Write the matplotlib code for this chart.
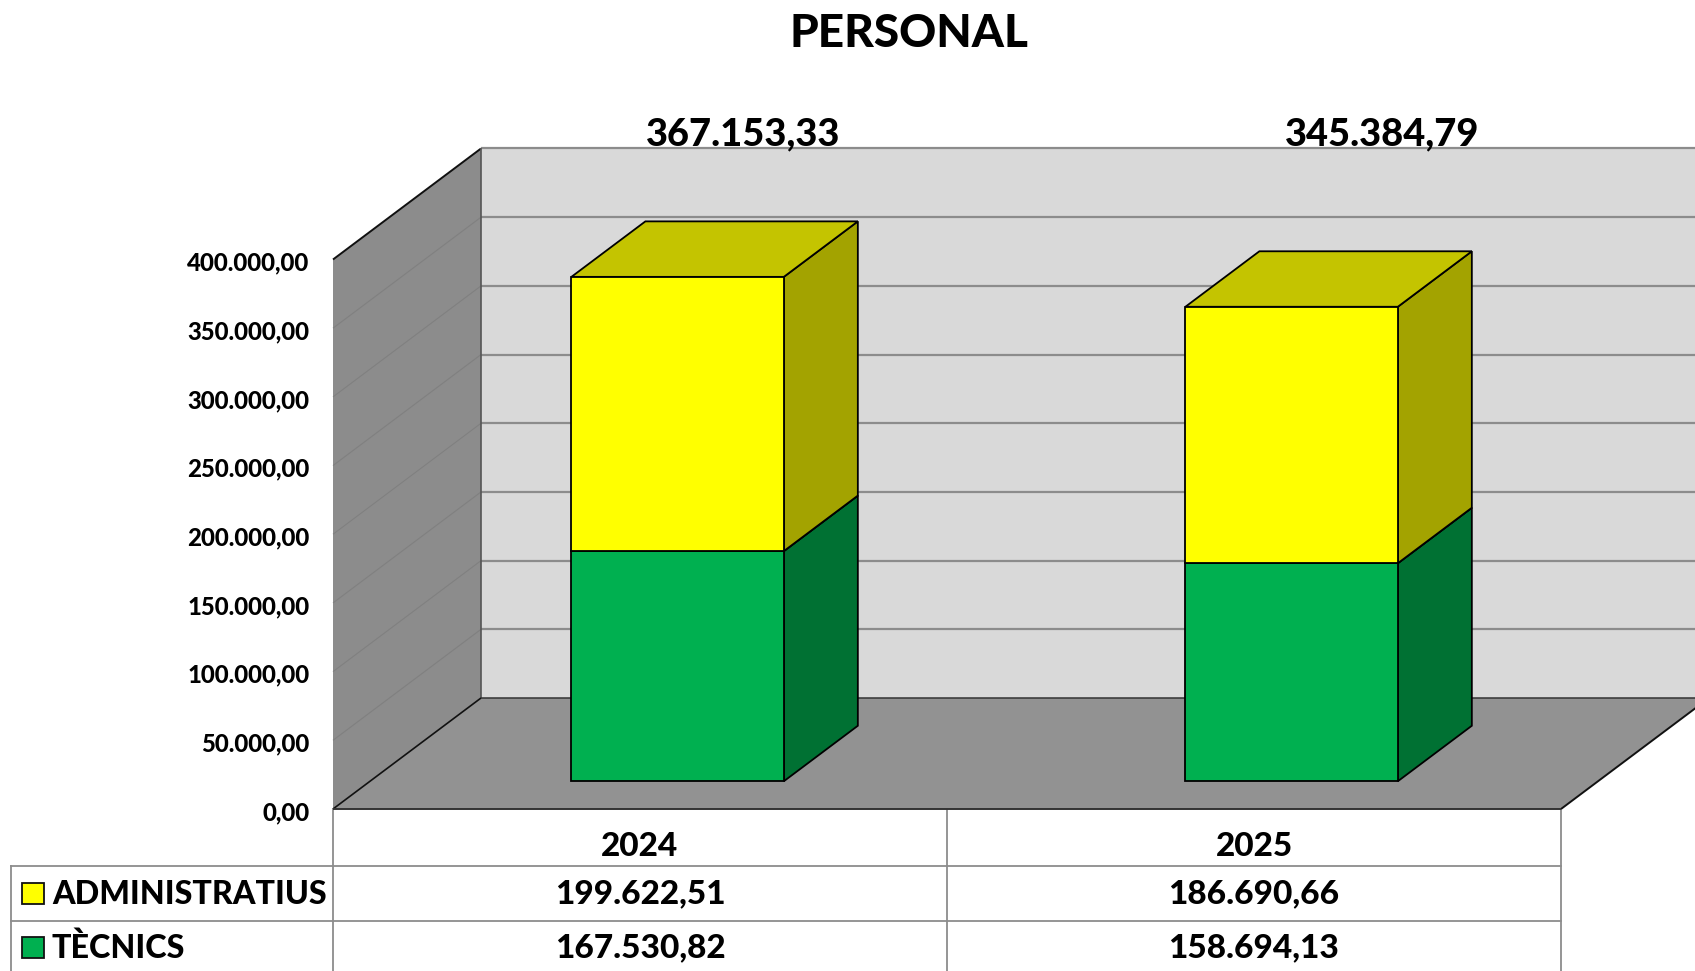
import matplotlib
matplotlib.use('Agg')
import matplotlib.pyplot as plt
from matplotlib.patches import Polygon, Rectangle
from matplotlib.transforms import ScaledTranslation

years = ['2024', '2025']
administratius = [199622.51, 186690.66]
tecnics = [167530.82, 158694.13]
totals = [367153.33, 345384.79]
y_ticks = [0, 50000, 100000, 150000, 200000, 250000, 300000, 350000, 400000]

W, H = 1695, 971
LEFT, RIGHT, BOTTOM, TOP = 333, 1561, 809, 259.5
plt.rcParams['font.family'] = ['Lato', 'DejaVu Sans']
plt.rcParams['font.weight'] = 'black'

# depth of the fake 3d box, in data units
DX = 148 / ((RIGHT - LEFT) / 2)
DY = 111 / (BOTTOM - TOP) * 400000
BAR_W = 0.346
CAT_PX = (RIGHT - LEFT) / 2


def fmt(v):
    return f'{v:,.2f}'.replace(',', 'X').replace('.', ',').replace('X', '.')


def pt(x, y, d=0.0):
    return (x + d * DX, y + d * DY)


def fx(px):
    return px / W


def fy(py):
    return 1 - py / H


fig = plt.figure(figsize=(W / 100, H / 100), dpi=100, facecolor='white')
ax = fig.add_axes([fx(LEFT), fy(BOTTOM), (RIGHT - LEFT) / W, (BOTTOM - TOP) / H])
ax.set_xlim(0, 2)
ax.set_ylim(0, 400000)
ax.patch.set_visible(False)
for s in ax.spines.values():
    s.set_visible(False)


def poly(points, color, edge='none', lw=0.0, z=1):
    ax.add_patch(Polygon(points, closed=True, facecolor=color, edgecolor=edge,
                         linewidth=lw, zorder=z, clip_on=False, joinstyle='miter'))


def line(a, b, color, lw, z=2):
    ax.plot([a[0], b[0]], [a[1], b[1]], color=color, lw=lw, zorder=z, clip_on=False,
            solid_capstyle='butt')


top = y_ticks[-1]
# walls and floor
poly([pt(0, 0, 1), pt(2, 0, 1), pt(2, top, 1), pt(0, top, 1)], '#D9D9D9')
poly([pt(0, 0), pt(0, 0, 1), pt(0, top, 1), pt(0, top)], '#8C8C8C')
poly([pt(0, 0), pt(2, 0), pt(2, 0, 1), pt(0, 0, 1)], '#929292')

for v in y_ticks[1:]:
    line(pt(0, v, 1), pt(2, v, 1), '#8C8C8C', 1.6)
    if v < top:
        line(pt(0, v), pt(0, v, 1), '#808080', 0.8)
line(pt(0, top), pt(0, top, 1), '#111111', 1.4, 3)
line(pt(0, 0, 1), pt(0, top, 1), '#555555', 1.2, 3)
line(pt(0, 0), pt(0, 0, 1), '#111111', 1.2, 3)
line(pt(2, 0), pt(2, 0, 1), '#111111', 1.4, 3)
line(pt(0, 0), pt(2, 0), '#333333', 1.4, 3)
line(pt(0, 0, 1), pt(2, 0, 1), '#333333', 1.1, 3)

# stacked boxes
series = [(tecnics, '#00B050', '#007133'),
          (administratius, '#FFFF00', '#A3A300')]
lids = ['#007F39', '#C4C400']
for i in range(len(years)):
    x0 = i + 0.5 - BAR_W / 2 + 0.001
    x1 = i + 0.5 + BAR_W / 2 + 0.001
    base = 0
    for (vals, front, side), lid in zip(series, lids):
        y1 = base + vals[i]
        poly([pt(x1, base, .25), pt(x1, base, .75), pt(x1, y1, .75), pt(x1, y1, .25)],
             side, 'black', 1.3, 5)
        poly([pt(x0, y1, .25), pt(x1, y1, .25), pt(x1, y1, .75), pt(x0, y1, .75)],
             lid, 'black', 1.3, 5)
        poly([pt(x0, base, .25), pt(x1, base, .25), pt(x1, y1, .25), pt(x0, y1, .25)],
             front, 'black', 1.3, 6)
        base = y1

ax.set_xticks([])
ax.set_yticks(y_ticks)
ax.set_yticklabels([fmt(v) for v in y_ticks], fontsize=17.3, fontweight='black')
ax.tick_params(axis='y', length=0, pad=17, colors='black')
nudge = ScaledTranslation(0, -1.5 / 100, fig.dpi_scale_trans)
for lb in ax.get_yticklabels():
    lb.set_transform(lb.get_transform() + nudge)

# data table under the axis
bx = ax.get_xaxis_transform()


def ay(py):
    return (BOTTOM - py) / (BOTTOM - TOP)


grid = '#8C8C8C'
table_l = (11.5 - LEFT) / CAT_PX
for xv in [0, 1, 2]:
    ax.plot([xv, xv], [ay(BOTTOM), ay(971)], transform=bx, color=grid, lw=1.3, clip_on=False)
ax.plot([table_l] * 2, [ay(866), ay(971)], transform=bx, color=grid, lw=1.3, clip_on=False)
for py in [866, 920.5]:
    ax.plot([table_l, 2], [ay(py), ay(py)], transform=bx, color=grid, lw=1.3, clip_on=False)

for i, yr in enumerate(years):
    ax.text(i + 0.5, ay(846), yr, transform=bx, ha='center', va='center', fontsize=24)
    ax.text(i + 0.5, ay(894), fmt(administratius[i]), transform=bx, ha='center', va='center',
            fontsize=24)
    ax.text(i + 0.5, ay(948), fmt(tecnics[i]), transform=bx, ha='center', va='center',
            fontsize=24)

# legend keys live in the table
fig.add_artist(Rectangle((fx(22), fy(904)), 22 / W, 21 / H, transform=fig.transFigure,
                         facecolor='#FFFF00', edgecolor='#111111', lw=1.3))
fig.add_artist(Rectangle((fx(22), fy(958)), 22 / W, 21 / H, transform=fig.transFigure,
                         facecolor='#00B050', edgecolor='#111111', lw=1.3))
fig.text(fx(52), fy(894), 'ADMINISTRATIUS', ha='left', va='center', fontsize=23.2)
fig.text(fx(52), fy(948), 'TÈCNICS', ha='left', va='center', fontsize=23.2)

fig.text(fx(909), fy(34), 'PERSONAL', ha='center', va='center', fontsize=33)
for px, v in zip([743, 1382], totals):
    fig.text(fx(px), fy(134), fmt(v), ha='center', va='center', fontsize=27.4)

fig.savefig('out.png', dpi=100)
